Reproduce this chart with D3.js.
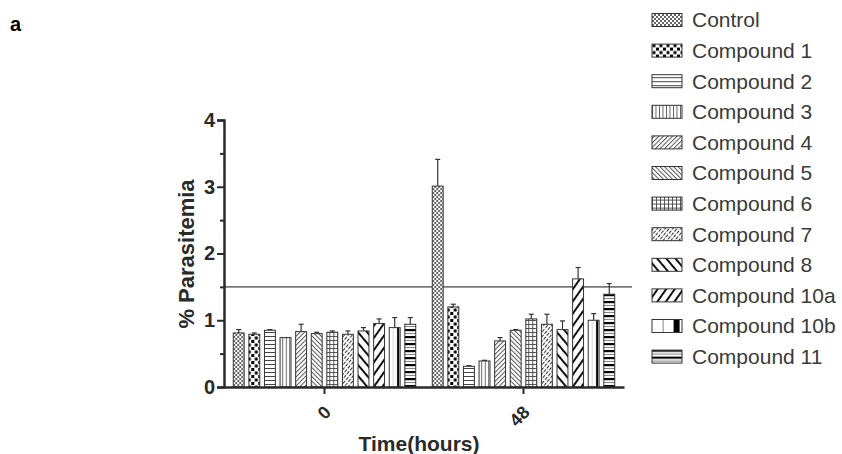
<!DOCTYPE html>
<html>
<head>
<meta charset="utf-8">
<script src="https://cdn.jsdelivr.net/npm/d3@7"></script>
<style>
  html, body { margin: 0; padding: 0; background: #fff; }
  svg { display: block; font-family: "Liberation Sans", Arial, sans-serif; }
</style>
</head>
<body>
<div id="chart"></div>
<script>
// % parasitemia at 0 and 48 hours, grouped bars with hatch fills
const groups = ["0", "48"];
const series = ["Control", "Compound 1", "Compound 2", "Compound 3", "Compound 4",
  "Compound 5", "Compound 6", "Compound 7", "Compound 8", "Compound 10a",
  "Compound 10b", "Compound 11"];
const values0 = [0.81, 0.79, 0.85, 0.74, 0.83, 0.80, 0.82, 0.79, 0.84, 0.95, 0.89, 0.94];
const errors0 = [0.05, 0.02, 0.01, 0.0, 0.11, 0.02, 0.02, 0.05, 0.05, 0.07, 0.15, 0.10];
const values48 = [3.01, 1.20, 0.31, 0.39, 0.69, 0.85, 1.02, 0.94, 0.86, 1.62, 1.00, 1.39];
const errors48 = [0.40, 0.04, 0.01, 0.01, 0.05, 0.01, 0.07, 0.15, 0.13, 0.17, 0.10, 0.16];
const yTicks = [0, 1, 2, 3, 4];
const yMinorTicks = [0.5, 1.5, 2.5, 3.5];
const thresholdValue = 1.5;

(function () {
  const W = 842, H = 454;
  const ink = "#2a2a2a";

  const svg = d3.select("#chart").append("svg")
    .attr("width", W).attr("height", H);

  const defs = svg.append("defs");

  // hatch patterns, one per series
  function pat(id, w, h, opts) {
    const p = defs.append("pattern")
      .attr("id", id)
      .attr("patternUnits", "userSpaceOnUse")
      .attr("width", w).attr("height", h);
    if (opts && opts.rotate) p.attr("patternTransform", `rotate(${opts.rotate})`);
    p.append("rect").attr("width", w).attr("height", h).attr("fill", "#fff");
    return p;
  }

  // control: fine grey checker
  let p = pat("p0", 4, 4);
  p.append("rect").attr("width", 2).attr("height", 2).attr("fill", "#666");
  p.append("rect").attr("x", 2).attr("y", 2).attr("width", 2).attr("height", 2).attr("fill", "#666");
  // compound 1: black blocks
  p = pat("p1", 7, 7);
  p.append("rect").attr("x", 0.5).attr("y", 0.5).attr("width", 3).attr("height", 3).attr("fill", "#000");
  p.append("rect").attr("x", 4).attr("y", 4).attr("width", 3).attr("height", 3).attr("fill", "#000");
  // compound 2: horizontal lines
  p = pat("p2", 4, 4);
  p.append("line").attr("x1", 0).attr("x2", 4).attr("y1", 0.5).attr("y2", 0.5).attr("stroke", "#444").attr("stroke-width", 1);
  // compound 3: vertical lines
  p = pat("p3", 3.5, 4);
  p.append("line").attr("x1", 0.5).attr("x2", 0.5).attr("y1", 0).attr("y2", 4).attr("stroke", "#555").attr("stroke-width", 0.9);
  // compound 4: fine "/"
  p = pat("p4", 3.2, 4, { rotate: 45 });
  p.append("line").attr("x1", 0.5).attr("x2", 0.5).attr("y1", 0).attr("y2", 4).attr("stroke", "#444").attr("stroke-width", 0.9);
  // compound 5: fine "\"
  p = pat("p5", 3.2, 4, { rotate: -45 });
  p.append("line").attr("x1", 0.5).attr("x2", 0.5).attr("y1", 0).attr("y2", 4).attr("stroke", "#444").attr("stroke-width", 0.9);
  // compound 6: grid
  p = pat("p6", 4, 4);
  p.append("line").attr("x1", 0).attr("x2", 4).attr("y1", 0.5).attr("y2", 0.5).attr("stroke", "#444").attr("stroke-width", 0.9);
  p.append("line").attr("x1", 0.5).attr("x2", 0.5).attr("y1", 0).attr("y2", 4).attr("stroke", "#444").attr("stroke-width", 0.9);
  // compound 7: dense dashed "/"
  p = pat("p7", 3, 5, { rotate: 40 });
  p.append("line").attr("x1", 0.5).attr("x2", 0.5).attr("y1", 0).attr("y2", 5)
    .attr("stroke", "#333").attr("stroke-width", 1.1).attr("stroke-dasharray", "3.5,1.5");
  // compound 8: bold "\"
  p = pat("p8", 7, 7, { rotate: -40 });
  p.append("line").attr("x1", 1).attr("x2", 1).attr("y1", 0).attr("y2", 7).attr("stroke", "#111").attr("stroke-width", 2);
  // compound 10a: bold "/"
  p = pat("p9", 7, 7, { rotate: 35 });
  p.append("line").attr("x1", 1).attr("x2", 1).attr("y1", 0).attr("y2", 7).attr("stroke", "#111").attr("stroke-width", 2);
  // compound 10b: white with one heavy vertical bar
  p = defs.append("pattern").attr("id", "p10")
    .attr("patternUnits", "objectBoundingBox").attr("patternContentUnits", "objectBoundingBox")
    .attr("width", 1).attr("height", 1);
  p.append("rect").attr("width", 1).attr("height", 1).attr("fill", "#fff");
  p.append("rect").attr("x", 0.35).attr("width", 0.04).attr("height", 1).attr("fill", "#999");
  p.append("rect").attr("x", 0.72).attr("width", 0.2).attr("height", 1).attr("fill", "#000");
  // compound 11: heavy horizontal dashes
  p = pat("p11", 4, 7);
  p.append("rect").attr("x", 0).attr("y", 0).attr("width", 4).attr("height", 2.2).attr("fill", "#000");
  p.append("line").attr("x1", 0).attr("x2", 4).attr("y1", 4.5).attr("y2", 4.5).attr("stroke", "#666").attr("stroke-width", 0.8);

  const fills = series.map((s, i) => `url(#p${i})`);

  // scales
  const x0 = d3.scaleBand().domain(groups).range([224, 624])
    .paddingInner(0.083).paddingOuter(0.0466);
  const x1 = d3.scaleBand().domain(series).range([0, x0.bandwidth()])
    .paddingInner(0.3).paddingOuter(0);
  const y = d3.scaleLinear().domain([0, 4]).range([387, 120]);

  const table = groups.map((g, gi) => ({
    group: g,
    bars: series.map((s, i) => ({
      name: s,
      idx: i,
      value: gi === 0 ? values0[i] : values48[i],
      err: gi === 0 ? errors0[i] : errors48[i],
    })),
  }));

  // threshold line
  svg.append("line")
    .attr("x1", 224).attr("x2", 632)
    .attr("y1", y(thresholdValue)).attr("y2", y(thresholdValue))
    .attr("stroke", "#777").attr("stroke-width", 1.6);

  const gGroups = svg.selectAll(".grp").data(table).enter().append("g")
    .attr("class", "grp")
    .attr("transform", (d) => `translate(${x0(d.group)},0)`);

  // error bars (upper only), drawn under the bar
  const eb = gGroups.selectAll(".err").data((d) => d.bars).enter().append("g").attr("class", "err");
  eb.append("line")
    .attr("x1", (d) => x1(d.name) + x1.bandwidth() / 2)
    .attr("x2", (d) => x1(d.name) + x1.bandwidth() / 2)
    .attr("y1", (d) => y(d.value))
    .attr("y2", (d) => y(d.value + d.err))
    .attr("stroke", "#333").attr("stroke-width", 1.2);
  eb.append("line")
    .attr("x1", (d) => x1(d.name) + x1.bandwidth() / 2 - 2.5)
    .attr("x2", (d) => x1(d.name) + x1.bandwidth() / 2 + 2.5)
    .attr("y1", (d) => y(d.value + d.err))
    .attr("y2", (d) => y(d.value + d.err))
    .attr("stroke", "#333").attr("stroke-width", 1.2);

  gGroups.selectAll(".bar").data((d) => d.bars).enter().append("rect")
    .attr("class", "bar")
    .attr("x", (d) => x1(d.name))
    .attr("width", x1.bandwidth())
    .attr("y", (d) => y(d.value))
    .attr("height", (d) => y(0) - y(d.value))
    .attr("fill", (d) => fills[d.idx])
    .attr("stroke", "#333").attr("stroke-width", 1);

  // y axis: major + minor ticks
  const yAxisG = svg.append("g").attr("transform", "translate(224,0)")
    .call(d3.axisLeft(y).tickValues(yTicks).tickSize(7).tickPadding(2).tickFormat(d3.format("d")));
  svg.append("g").attr("transform", "translate(224,0)")
    .call(d3.axisLeft(y).tickValues(yMinorTicks).tickSize(4).tickFormat(""))
    .select(".domain").remove();
  svg.selectAll("g .tick line").attr("stroke", ink).attr("stroke-width", 2);
  yAxisG.select(".domain").attr("stroke", ink).attr("stroke-width", 2.5);
  yAxisG.selectAll("text")
    .attr("font-size", 20).attr("font-weight", "bold").attr("fill", ink)
    .attr("font-family", "Liberation Sans, Arial, sans-serif");

  // x axis
  const xAxisG = svg.append("g").attr("transform", `translate(0,${y(0)})`)
    .call(d3.axisBottom(x0).tickSize(7).tickSizeOuter(0));
  xAxisG.select(".domain").attr("stroke", ink).attr("stroke-width", 2.5);
  xAxisG.selectAll(".tick line").attr("stroke", ink).attr("stroke-width", 2);
  xAxisG.selectAll("text")
    .attr("x", 0).attr("y", 0).attr("dy", "0.35em")
    .attr("transform", "translate(3,22) rotate(-45)")
    .attr("text-anchor", "end")
    .attr("font-size", 18).attr("font-weight", "bold").attr("fill", ink)
    .attr("font-family", "Liberation Sans, Arial, sans-serif");

  // axis titles
  svg.append("text")
    .attr("transform", "translate(194,254) rotate(-90)")
    .attr("text-anchor", "middle")
    .attr("font-size", 22).attr("font-weight", "bold").attr("fill", ink)
    .text("% Parasitemia");
  svg.append("text")
    .attr("x", 419).attr("y", 451)
    .attr("text-anchor", "middle")
    .attr("font-size", 21).attr("font-weight", "bold").attr("fill", ink)
    .text("Time(hours)");

  // panel letter
  svg.append("text").attr("x", 10).attr("y", 31)
    .attr("font-size", 20).attr("font-weight", "bold").attr("fill", "#000")
    .text("a");

  // legend
  const legend = svg.append("g").attr("transform", "translate(652,0)");
  const items = legend.selectAll("g").data(series).enter().append("g")
    .attr("transform", (d, i) => `translate(0,${20 + i * 30.6})`);
  items.append("rect")
    .attr("x", 0).attr("y", -6.5).attr("width", 30).attr("height", 13)
    .attr("fill", (d, i) => fills[i])
    .attr("stroke", "#333").attr("stroke-width", 1);
  items.append("text")
    .attr("x", 40).attr("y", 0).attr("dy", "0.35em")
    .attr("font-size", 21).attr("fill", "#3a3a3a")
    .text((d) => d);
})();
</script>
</body>
</html>
